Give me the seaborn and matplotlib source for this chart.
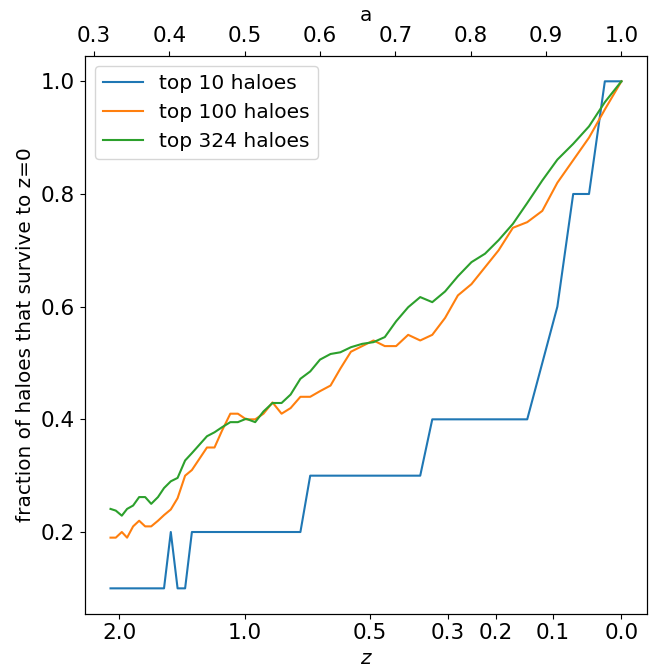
import numpy as np
import pandas as pd
import matplotlib
matplotlib.use("Agg")
import matplotlib.pyplot as plt
import seaborn as sns

# Scale factor of each snapshot (z = 2.1 ... 0)
scale_factor = [
    0.322, 0.329, 0.337, 0.344, 0.352, 0.360, 0.368, 0.376, 0.385, 0.393,
    0.402, 0.411, 0.421, 0.430, 0.440, 0.450, 0.460, 0.470, 0.481, 0.491,
    0.502, 0.514, 0.525, 0.537, 0.549, 0.561, 0.574, 0.587, 0.600, 0.614,
    0.627, 0.641, 0.656, 0.671, 0.686, 0.701, 0.717, 0.733, 0.749, 0.766,
    0.783, 0.801, 0.819, 0.837, 0.856, 0.875, 0.895, 0.915, 0.936, 0.957,
    0.978, 1.000,
]

# Fraction of the most massive haloes at each snapshot that survive to z=0
top10 = [
    0.1, 0.1, 0.1, 0.1, 0.1, 0.1, 0.1, 0.1, 0.1, 0.1,
    0.2, 0.1, 0.1, 0.2, 0.2, 0.2, 0.2, 0.2, 0.2, 0.2,
    0.2, 0.2, 0.2, 0.2, 0.2, 0.2, 0.2, 0.3, 0.3, 0.3,
    0.3, 0.3, 0.3, 0.3, 0.3, 0.3, 0.3, 0.3, 0.4, 0.4,
    0.4, 0.4, 0.4, 0.4, 0.4, 0.4, 0.5, 0.6, 0.8, 0.8,
    1.0, 1.0,
]
top100 = [
    0.19, 0.19, 0.20, 0.19, 0.21, 0.22, 0.21, 0.21, 0.22, 0.23,
    0.24, 0.26, 0.30, 0.31, 0.33, 0.35, 0.35, 0.38, 0.41, 0.41,
    0.40, 0.40, 0.41, 0.43, 0.41, 0.42, 0.44, 0.44, 0.45, 0.46,
    0.49, 0.52, 0.53, 0.54, 0.53, 0.53, 0.55, 0.54, 0.55, 0.58,
    0.62, 0.64, 0.67, 0.70, 0.74, 0.75, 0.77, 0.82, 0.86, 0.90,
    0.95, 1.00,
]
top324 = [
    0.241, 0.238, 0.229, 0.241, 0.247, 0.262, 0.262, 0.250, 0.262, 0.278,
    0.290, 0.296, 0.327, 0.340, 0.355, 0.370, 0.377, 0.386, 0.395, 0.395,
    0.401, 0.395, 0.414, 0.429, 0.429, 0.444, 0.472, 0.485, 0.506, 0.516,
    0.519, 0.528, 0.534, 0.537, 0.546, 0.574, 0.599, 0.617, 0.608, 0.627,
    0.654, 0.679, 0.694, 0.718, 0.747, 0.784, 0.824, 0.861, 0.889, 0.920,
    0.963, 1.000,
]

series_names = ["top 10 haloes", "top 100 haloes", "top 324 haloes"]

# Redshift ticks on the bottom axis, scale-factor ticks on the top axis
z_ticks = [2.0, 1.0, 0.5, 0.3, 0.2, 0.1, 0.0]
a_ticks = [0.3, 0.4, 0.5, 0.6, 0.7, 0.8, 0.9, 1.0]

df = pd.DataFrame({
    "a": scale_factor * 3,
    "fraction": top10 + top100 + top324,
    "sample": np.repeat(series_names, len(scale_factor)),
})

fig = plt.figure(figsize=(6.68, 6.71), dpi=100)
ax = fig.add_axes([0.1272, 0.0854, 0.8413, 0.8312])

sns.lineplot(data=df, x="a", y="fraction", hue="sample",
             palette=["#1f77b4", "#ff7f0e", "#2ca02c"],
             linewidth=1.5, ax=ax, legend=True)

ax.legend(loc="upper left", fontsize=14.5, title=None)

xlim = ax.get_xlim()
ax.set_xticks([1.0 / (1.0 + z) for z in z_ticks])
ax.set_xticklabels([f"{z:.1f}" for z in z_ticks])
ax.set_xlabel("$z$", fontsize=14.4)
ax.set_ylabel("fraction of haloes that survive to z=0", fontsize=14.4)
ax.set_yticks([0.2, 0.4, 0.6, 0.8, 1.0])
ax.tick_params(labelsize=15.5)

top = ax.twiny()
top.set_xlim(xlim)
ax.set_xlim(xlim)
top.set_xticks(a_ticks)
top.set_xticklabels([f"{v:.1f}" for v in a_ticks])
top.set_xlabel("a", fontsize=14.4)
top.tick_params(labelsize=15.5)

fig.savefig("out.png", dpi=100)
